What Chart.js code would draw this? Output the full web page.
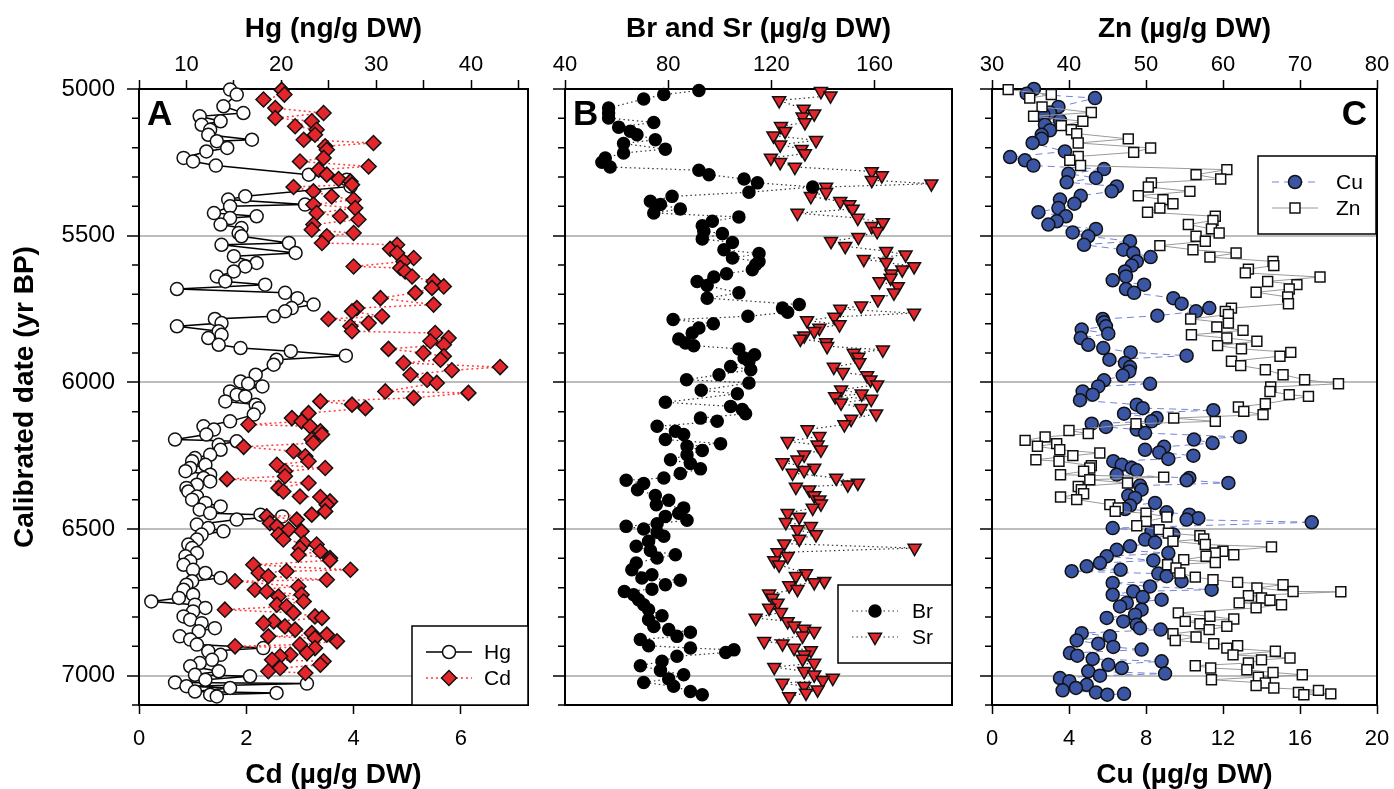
<!DOCTYPE html>
<html>
<head>
<meta charset="utf-8">
<title>Hg, Cd, Br, Sr, Cu and Zn profiles</title>
<script src="https://cdn.jsdelivr.net/npm/chart.js@4.4.1/dist/chart.umd.min.js"></script>
<style>
  html, body { margin: 0; padding: 0; background: #fff; }
  #wrap { position: relative; width: 1394px; height: 789px; }
  canvas { position: absolute; top: 0; }
</style>
</head>
<body>
<div id="wrap">
  <canvas id="panelA" width="540" height="789" style="left:0"></canvas>
  <canvas id="panelB" width="430" height="789" style="left:540px"></canvas>
  <canvas id="panelC" width="424" height="789" style="left:970px"></canvas>
</div>
<script>
// Age axis (calibrated yr BP), shared by the three panels
const ageMin = 5000;
const ageMax = 7100;
const ageStep = 100;
const ageLabelStep = 500;

// Panel A: Hg (ng/g DW, top axis) and Cd (µg/g DW, bottom axis)
const hgAge = [
  5002, 5019, 5059, 5082, 5093, 5110, 5122, 5139, 5156, 5173, 5178, 5201, 5213, 5235, 5247, 5261,
  5292, 5309, 5332, 5366, 5377, 5394, 5400, 5423, 5434, 5440, 5462, 5474, 5491, 5502, 5525, 5531,
  5559, 5570, 5593, 5605, 5622, 5639, 5656, 5667, 5682, 5695, 5713, 5735, 5747, 5758, 5775, 5784,
  5798, 5809, 5826, 5838, 5849, 5872, 5883, 5894, 5909, 5923, 5940, 5974, 5997, 6005, 6014, 6031,
  6042, 6048, 6065, 6076, 6088, 6110, 6133, 6150, 6161, 6178, 6195, 6201, 6213, 6230, 6247, 6258,
  6269, 6281, 6292, 6303, 6315, 6326, 6338, 6349, 6360, 6372, 6389, 6400, 6411, 6423, 6434, 6446,
  6451, 6457, 6468, 6485, 6497, 6508, 6519, 6536, 6553, 6565, 6582, 6593, 6610, 6622, 6639, 6650,
  6667, 6678, 6690, 6707, 6724, 6735, 6747, 6758, 6769, 6781, 6798, 6809, 6821, 6838, 6849, 6866,
  6877, 6894, 6906, 6917, 6929, 6946, 6957, 6968, 6985, 6997, 7002, 7014, 7023, 7027, 7036, 7042,
  7054, 7059, 7065, 7071
];
const hgValue = [
  14.6, 15.3, 13.9, 16.0, 11.4, 13.6, 11.6, 12.5, 12.3, 16.9, 13.2, 14.3, 12.1, 9.7, 10.7, 13.1,
  22.9, 26.9, 27.3, 16.2, 14.4, 22.5, 14.6, 12.9, 17.4, 14.6, 13.6, 15.8, 15.5, 15.8, 20.8, 13.7,
  21.5, 15.0, 17.4, 16.2, 15.0, 13.2, 14.1, 18.3, 9.0, 20.4, 21.7, 23.4, 21.1, 20.4, 19.2, 13.0,
  13.7, 9.0, 13.4, 13.7, 12.3, 13.4, 15.7, 21.0, 26.8, 19.5, 19.2, 17.3, 15.7, 16.5, 18.0, 14.6,
  15.3, 16.2, 14.1, 17.3, 17.6, 17.1, 14.6, 11.8, 12.9, 12.1, 8.8, 15.3, 13.4, 13.6, 12.5, 10.9,
  10.6, 12.0, 10.4, 9.9, 12.5, 11.8, 12.5, 11.1, 10.0, 10.2, 11.1, 10.6, 12.0, 13.6, 11.4, 12.5,
  17.8, 20.1, 15.3, 11.1, 12.3, 13.9, 11.6, 11.1, 10.2, 10.6, 11.1, 9.9, 10.4, 9.7, 10.7, 12.0,
  13.6, 10.6, 10.0, 9.7, 10.7, 9.2, 6.3, 10.9, 12.0, 10.7, 9.7, 10.4, 11.6, 13.0, 11.3, 9.3,
  10.4, 11.1, 18.1, 12.3, 13.6, 12.7, 11.4, 10.4, 13.4, 10.9, 16.7, 12.0, 8.8, 22.7, 10.0, 14.6,
  10.9, 19.5, 12.5, 13.2
];
const cdAge = [
  5003, 5019, 5036, 5065, 5082, 5099, 5110, 5127, 5139, 5156, 5173, 5184, 5195, 5207, 5235, 5247,
  5264, 5275, 5292, 5307, 5315, 5326, 5334, 5349, 5366, 5377, 5394, 5406, 5423, 5434, 5445, 5462,
  5480, 5491, 5502, 5525, 5531, 5545, 5559, 5576, 5588, 5605, 5610, 5622, 5639, 5656, 5673, 5678,
  5695, 5713, 5735, 5747, 5758, 5775, 5784, 5798, 5809, 5826, 5832, 5849, 5860, 5872, 5886, 5900,
  5911, 5923, 5934, 5948, 5959, 5974, 5991, 6002, 6031, 6036, 6053, 6065, 6076, 6088, 6105, 6122,
  6133, 6144, 6150, 6167, 6178, 6195, 6207, 6220, 6235, 6252, 6269, 6281, 6292, 6303, 6320, 6330,
  6343, 6360, 6372, 6389, 6391, 6406, 6417, 6440, 6451, 6457, 6468, 6480, 6491, 6502, 6508, 6519,
  6536, 6548, 6553, 6565, 6576, 6588, 6599, 6607, 6622, 6639, 6644, 6650, 6661, 6673, 6678, 6696,
  6707, 6713, 6724, 6730, 6747, 6758, 6764, 6775, 6786, 6798, 6803, 6815, 6821, 6832, 6843, 6855,
  6860, 6866, 6872, 6883, 6894, 6900, 6906, 6923, 6929, 6934, 6946, 6951, 6963, 6974, 6985, 6991
];
const cdValue = [
  2.66, 2.71, 2.32, 2.54, 3.44, 2.54, 3.22, 2.91, 3.31, 3.28, 3.07, 4.37, 3.47, 3.50, 3.44, 3.00,
  4.28, 3.35, 3.50, 3.72, 3.94, 3.97, 2.88, 3.25, 3.59, 4.00, 3.25, 4.03, 3.31, 3.75, 4.09, 3.25,
  3.22, 4.00, 3.50, 3.41, 4.81, 4.68, 4.81, 5.12, 4.93, 4.00, 4.87, 4.96, 5.09, 5.49, 5.68, 5.46,
  5.15, 4.50, 5.49, 4.06, 3.97, 4.53, 3.53, 4.28, 3.94, 3.97, 5.52, 5.77, 5.43, 5.68, 4.65, 5.30,
  5.68, 5.62, 4.93, 6.73, 5.83, 5.06, 5.37, 5.55, 4.59, 6.14, 5.12, 3.38, 3.97, 4.22, 3.16, 2.85,
  3.03, 2.04, 3.19, 3.38, 3.41, 3.22, 3.25, 1.95, 2.88, 3.10, 3.16, 2.57, 3.47, 2.72, 2.72, 1.64,
  3.16, 2.60, 2.69, 3.00, 3.38, 3.56, 3.50, 3.47, 3.22, 2.38, 2.94, 2.44, 2.57, 2.79, 3.03, 2.60,
  2.69, 3.07, 3.31, 3.00, 3.38, 2.97, 3.56, 3.56, 2.13, 3.94, 2.75, 2.23, 2.41, 3.50, 1.79, 2.97,
  2.16, 2.38, 3.03, 2.60, 3.07, 2.57, 2.75, 1.60, 2.88, 3.28, 3.41, 2.51, 2.32, 2.72, 2.91, 3.22,
  3.50, 2.41, 3.28, 3.69, 3.00, 1.79, 3.28, 3.13, 2.82, 2.63, 2.48, 3.44, 3.38, 2.63, 2.41, 3.10
];

// Panel B: Br and Sr (µg/g DW)
const brAge = [
  5005, 5019, 5034, 5065, 5082, 5099, 5114, 5130, 5144, 5156, 5173, 5186, 5205, 5218, 5235, 5250,
  5266, 5277, 5292, 5307, 5320, 5334, 5352, 5366, 5383, 5394, 5409, 5423, 5436, 5451, 5466, 5485,
  5493, 5511, 5523, 5548, 5561, 5576, 5588, 5599, 5616, 5630, 5641, 5656, 5670, 5695, 5713, 5735,
  5747, 5761, 5775, 5786, 5800, 5815, 5832, 5852, 5866, 5875, 5886, 5906, 5917, 5928, 5946, 5957,
  5974, 5991, 6002, 6027, 6039, 6068, 6082, 6093, 6107, 6122, 6133, 6150, 6167, 6178, 6195, 6209,
  6218, 6232, 6247, 6264, 6277, 6295, 6311, 6326, 6334, 6345, 6366, 6386, 6402, 6417, 6428, 6446,
  6457, 6470, 6482, 6491, 6500, 6511, 6525, 6542, 6559, 6573, 6588, 6599, 6616, 6639, 6656, 6667,
  6675, 6690, 6705, 6713, 6724, 6741, 6758, 6775, 6796, 6809, 6832, 6843, 6852, 6866, 6877, 6898,
  6906, 6912, 6921, 6934, 6951, 6966, 6982, 6997, 7011, 7023, 7036, 7054, 7065
];
const brValue = [
  91.9, 78.3, 70.5, 56.9, 56.9, 56.9, 74.4, 60.8, 65.3, 67.9, 75.0, 62.7, 78.9, 62.7, 55.6, 54.3,
  57.5, 91.9, 95.8, 109.4, 114.6, 136.0, 111.3, 81.5, 73.1, 77.0, 84.7, 74.4, 107.4, 97.1, 93.2, 93.8,
  101.0, 93.2, 104.9, 101.6, 115.2, 104.9, 115.2, 113.9, 112.6, 102.6, 97.7, 91.2, 95.1, 107.4, 95.1, 130.8,
  124.3, 126.3, 110.9, 81.9, 97.5, 91.9, 89.3, 84.1, 86.7, 89.9, 107.4, 113.5, 109.4, 111.3, 104.2, 112.0,
  99.7, 87.1, 111.3, 92.8, 106.8, 78.9, 104.2, 108.7, 110.0, 92.5, 99.0, 75.7, 82.8, 86.0, 78.9, 100.3,
  87.3, 93.2, 87.3, 80.9, 88.6, 92.5, 84.7, 78.3, 63.7, 70.5, 68.1, 75.0, 80.2, 75.4, 86.0, 84.1,
  78.9, 87.3, 75.7, 63.7, 70.5, 75.7, 78.3, 72.4, 67.6, 73.1, 82.8, 75.7, 67.6, 65.9, 73.7, 69.8,
  84.7, 78.9, 73.7, 63.0, 66.6, 68.5, 70.5, 72.4, 77.6, 72.4, 74.4, 80.2, 88.6, 83.4, 69.2, 72.4,
  88.6, 105.5, 102.3, 83.4, 77.6, 69.2, 77.0, 86.0, 80.2, 70.5, 82.1, 88.6, 93.2
];
const srAge = [
  5008, 5023, 5039, 5068, 5084, 5095, 5114, 5127, 5144, 5159, 5175, 5190, 5205, 5220, 5235, 5250,
  5266, 5281, 5295, 5311, 5323, 5334, 5352, 5366, 5383, 5394, 5409, 5423, 5440, 5455, 5468, 5485,
  5505, 5519, 5536, 5553, 5565, 5580, 5591, 5605, 5616, 5630, 5644, 5656, 5673, 5695, 5718, 5739,
  5750, 5764, 5777, 5789, 5803, 5815, 5826, 5841, 5852, 5864, 5877, 5889, 5900, 5914, 5932, 5948,
  5966, 5977, 5991, 6008, 6025, 6039, 6048, 6057, 6070, 6088, 6107, 6125, 6144, 6161, 6184, 6201,
  6213, 6230, 6247, 6264, 6273, 6292, 6300, 6309, 6326, 6343, 6349, 6357, 6366, 6386, 6400, 6414,
  6428, 6446, 6459, 6477, 6491, 6502, 6519, 6534, 6550, 6565, 6580, 6593, 6607, 6622, 6652, 6661,
  6678, 6682, 6693, 6705, 6721, 6735, 6752, 6769, 6784, 6803, 6815, 6830, 6841, 6849, 6864, 6883,
  6891, 6906, 6914, 6929, 6943, 6957, 6971, 6985, 6997, 7008, 7016, 7025, 7036, 7048, 7059, 7071
];
const srValue = [
  139.2, 142.9, 123.0, 132.5, 136.6, 132.1, 133.0, 123.7, 125.3, 120.8, 137.3, 123.4, 131.7, 133.0, 119.8, 123.4,
  129.1, 158.9, 162.8, 158.9, 182.0, 141.2, 141.2, 135.3, 146.7, 150.2, 151.5, 130.1, 153.5, 163.2, 158.9, 161.0,
  153.7, 143.1, 148.6, 164.5, 172.0, 155.8, 164.5, 175.3, 170.7, 166.5, 166.2, 161.9, 169.0, 167.5, 161.3, 154.8,
  146.7, 175.3, 144.4, 133.8, 146.4, 138.6, 136.6, 132.7, 131.2, 141.2, 141.6, 163.2, 151.9, 153.7, 154.1, 144.2,
  147.7, 157.1, 158.4, 161.0, 147.0, 155.0, 144.7, 158.7, 147.0, 154.8, 160.6, 150.9, 148.3, 134.0, 138.6, 126.3,
  137.9, 139.2, 132.7, 130.1, 124.3, 136.6, 132.7, 128.2, 145.1, 153.5, 149.6, 129.5, 134.7, 136.6, 138.6, 139.2,
  136.0, 126.3, 130.8, 125.6, 135.3, 130.1, 137.3, 130.8, 125.0, 175.5, 122.4, 126.3, 121.1, 123.0, 133.4, 129.5,
  140.5, 136.6, 126.9, 130.1, 119.1, 120.4, 122.4, 119.1, 123.7, 113.9, 126.3, 128.8, 132.7, 136.6, 132.1, 117.2,
  124.3, 128.8, 135.3, 132.7, 132.1, 136.6, 121.1, 132.7, 136.6, 143.8, 139.9, 124.3, 132.7, 137.9, 133.4, 126.9
];

// Panel C: Cu (µg/g DW, bottom axis) and Zn (µg/g DW, top axis)
const cuAge = [
  5000, 5016, 5031, 5061, 5080, 5088, 5107, 5122, 5141, 5156, 5170, 5184, 5213, 5232, 5243, 5261,
  5273, 5289, 5303, 5318, 5332, 5349, 5364, 5377, 5391, 5406, 5420, 5434, 5451, 5462, 5477, 5489,
  5502, 5519, 5531, 5548, 5559, 5573, 5588, 5602, 5622, 5639, 5652, 5667, 5682, 5695, 5713, 5732,
  5747, 5758, 5773, 5784, 5795, 5809, 5820, 5834, 5849, 5872, 5883, 5898, 5909, 5923, 5934, 5948,
  5963, 5977, 5993, 6005, 6014, 6031, 6042, 6061, 6076, 6088, 6095, 6107, 6122, 6133, 6141, 6152,
  6161, 6173, 6186, 6195, 6207, 6220, 6230, 6239, 6250, 6261, 6269, 6281, 6292, 6300, 6315, 6326,
  6334, 6343, 6352, 6366, 6386, 6394, 6411, 6420, 6432, 6443, 6451, 6463, 6468, 6477, 6497, 6508,
  6519, 6536, 6546, 6559, 6571, 6582, 6593, 6607, 6616, 6627, 6639, 6644, 6652, 6661, 6678, 6684,
  6696, 6707, 6713, 6724, 6732, 6741, 6752, 6764, 6775, 6792, 6803, 6815, 6826, 6838, 6843, 6855,
  6866, 6880, 6891, 6902, 6911, 6923, 6932, 6943, 6951, 6963, 6974, 6985, 6993, 7000, 7008, 7019,
  7031, 7042, 7050, 7057, 7062, 7065
];
const cuValue = [
  2.18, 1.80, 5.35, 3.45, 3.01, 2.67, 3.53, 2.75, 3.01, 2.58, 2.58, 2.11, 3.79, 0.94, 1.71, 2.15,
  5.82, 3.97, 5.40, 3.88, 6.48, 6.22, 4.61, 3.53, 4.28, 3.45, 2.41, 3.84, 3.36, 2.93, 5.40, 4.19,
  5.00, 7.17, 4.78, 6.82, 7.34, 8.24, 7.52, 7.26, 6.91, 6.96, 6.27, 7.90, 6.96, 7.38, 9.42, 9.85,
  11.29, 10.60, 8.59, 5.75, 5.82, 5.92, 4.66, 6.04, 4.61, 5.00, 5.78, 7.20, 10.11, 6.10, 6.91, 7.17,
  7.13, 6.79, 5.82, 8.21, 5.52, 4.71, 5.23, 4.57, 7.52, 7.83, 11.50, 6.86, 8.55, 8.29, 5.18, 5.92,
  7.52, 7.95, 12.88, 10.49, 11.46, 8.94, 7.95, 8.69, 10.46, 9.16, 6.30, 6.74, 7.26, 7.52, 6.48, 10.25,
  10.11, 12.28, 7.69, 7.77, 7.08, 7.43, 8.47, 7.17, 6.91, 9.07, 10.25, 10.72, 10.11, 16.61, 6.27, 8.29,
  9.42, 7.95, 8.47, 7.17, 6.48, 9.16, 5.96, 8.38, 5.61, 4.92, 6.68, 4.14, 8.64, 9.07, 9.85, 6.27,
  8.21, 11.41, 7.34, 6.27, 7.83, 8.81, 7.00, 6.65, 7.77, 7.43, 5.96, 6.82, 7.52, 7.69, 8.76, 4.66,
  6.13, 4.40, 5.52, 6.30, 7.77, 4.05, 4.43, 5.23, 8.81, 6.04, 6.74, 5.00, 8.99, 5.61, 3.53, 4.02,
  4.92, 4.36, 3.67, 5.40, 6.86, 5.99
];
const znAge = [
  5002, 5019, 5031, 5061, 5080, 5093, 5110, 5125, 5139, 5152, 5170, 5184, 5201, 5216, 5230, 5243,
  5261, 5275, 5292, 5307, 5320, 5334, 5349, 5364, 5377, 5391, 5406, 5420, 5434, 5448, 5462, 5477,
  5491, 5502, 5519, 5534, 5548, 5559, 5573, 5588, 5602, 5614, 5627, 5641, 5656, 5667, 5682, 5693,
  5709, 5732, 5747, 5758, 5769, 5784, 5798, 5811, 5823, 5838, 5849, 5860, 5875, 5886, 5898, 5911,
  5928, 5943, 5957, 5974, 5991, 6005, 6016, 6031, 6042, 6048, 6073, 6084, 6099, 6110, 6122, 6133,
  6141, 6164, 6175, 6186, 6198, 6209, 6218, 6230, 6241, 6250, 6264, 6269, 6284, 6292, 6303, 6315,
  6323, 6332, 6343, 6355, 6366, 6380, 6391, 6400, 6417, 6428, 6440, 6446, 6459, 6474, 6489, 6502,
  6514, 6523, 6534, 6542, 6553, 6561, 6576, 6582, 6588, 6593, 6605, 6614, 6622, 6633, 6650, 6664,
  6673, 6682, 6690, 6701, 6713, 6714, 6727, 6735, 6743, 6752, 6758, 6769, 6786, 6798, 6807, 6815,
  6823, 6832, 6843, 6857, 6868, 6880, 6891, 6898, 6906, 6917, 6929, 6940, 6946, 6957, 6966, 6974,
  6980, 6989, 6997, 7005, 7014, 7025, 7034, 7042, 7050, 7057, 7062, 7065
];
const znValue = [
  32.1, 37.7, 34.9, 36.5, 42.9, 35.4, 41.8, 39.0, 40.3, 41.0, 47.7, 41.2, 50.6, 48.4, 41.2, 40.1,
  41.5, 60.5, 56.5, 59.7, 50.7, 50.3, 55.7, 49.0, 52.2, 53.5, 51.8, 50.2, 59.0, 58.7, 55.5, 58.5,
  59.5, 56.5, 57.7, 51.8, 56.1, 61.7, 58.3, 66.5, 66.6, 63.3, 62.9, 72.6, 65.8, 69.6, 68.6, 64.3,
  68.4, 68.5, 61.1, 60.3, 60.7, 55.8, 60.7, 59.2, 62.6, 55.9, 60.5, 64.4, 59.3, 62.4, 68.8, 67.4,
  61.1, 62.3, 65.5, 67.8, 70.6, 75.0, 66.2, 66.1, 68.6, 71.1, 65.5, 62.0, 62.7, 65.2, 53.6, 59.0,
  48.7, 40.0, 42.5, 36.9, 34.3, 38.4, 35.9, 38.8, 44.0, 40.5, 35.7, 38.7, 42.9, 42.7, 41.9, 38.9,
  52.3, 42.7, 47.6, 41.2, 41.6, 41.9, 38.9, 41.0, 45.3, 46.4, 46.0, 50.0, 52.7, 50.0, 48.8, 51.7,
  52.9, 57.0, 57.5, 53.5, 57.7, 66.3, 60.0, 59.0, 61.4, 57.8, 54.9, 59.0, 52.8, 53.9, 54.4, 56.4,
  58.7, 61.9, 67.8, 64.4, 69.1, 75.3, 63.3, 65.0, 66.1, 62.1, 67.6, 64.3, 54.2, 58.3, 61.4, 55.1,
  57.0, 60.5, 58.2, 53.5, 56.5, 53.8, 58.8, 61.9, 60.5, 66.8, 61.3, 68.7, 65.0, 63.3, 56.4, 58.4,
  63.1, 66.5, 70.3, 64.6, 58.5, 65.5, 64.3, 66.6, 72.4, 69.8, 74.0, 70.5
];

const FONT = '"Liberation Sans", Arial, Helvetica, sans-serif';
Chart.defaults.font.family = FONT;
Chart.defaults.color = '#000';
Chart.defaults.animation = false;

const RED = '#e3262b';
const BLUE = '#3a55a4';
const MINOR_TICK = 7; // minor age ticks are shorter than the major ones

function points(ages, values) {
  return ages.map((a, i) => ({ x: values[i], y: a }));
}

const isMajorAge = (v) => v % ageLabelStep === 0;

// vertical age axis; only panel A shows labels and the title
function ageAxis(width, showLabels) {
  return {
    type: 'linear',
    position: 'left',
    reverse: true,
    min: ageMin,
    max: ageMax,
    afterFit: (scale) => { scale.width = width; },
    border: { display: false },
    grid: {
      color: (c) => (c.tick && isMajorAge(c.tick.value) ? '#bdbdbd' : 'rgba(0,0,0,0)'),
      lineWidth: 2,
      tickColor: (c) => (c.tick && isMajorAge(c.tick.value) ? '#000' : 'rgba(0,0,0,0)'),
      tickWidth: 1.5,
      tickLength: 12
    },
    ticks: {
      display: showLabels,
      stepSize: ageStep,
      autoSkip: false,
      padding: 12,
      font: { size: 24 },
      callback: (v) => (isMajorAge(v) ? v : '')
    },
    title: {
      display: showLabels,
      text: 'Calibrated date (yr BP)',
      font: { size: 28, weight: 'bold', lineHeight: 1 },
      padding: { top: 11, bottom: 0 }
    }
  };
}

// horizontal concentration axis (top or bottom)
function valueAxis(position, min, max, step, labelEvery, title, height) {
  return {
    type: 'linear',
    position: position,
    min: min,
    max: max,
    afterFit: (scale) => {
      scale.height = height;
      // edge labels may overhang; keep the plot width fixed
      scale.paddingLeft = 0;
      scale.paddingRight = 0;
    },
    border: { display: false },
    grid: { drawOnChartArea: false, tickColor: '#000', tickWidth: 1.5, tickLength: 9 },
    ticks: {
      stepSize: step,
      autoSkip: false,
      includeBounds: false,
      maxRotation: 0,
      padding: position === 'top' ? 2 : 12,
      font: { size: 22 },
      callback: (v) => (Math.abs(v / labelEvery - Math.round(v / labelEvery)) < 1e-6 ? v : '')
    },
    title: {
      display: true,
      text: title,
      font: { size: 28, weight: 'bold', lineHeight: 1 },
      padding: position === 'top' ? { top: 15, bottom: 0 } : { top: 0, bottom: 0 }
    }
  };
}

// frame, minor age ticks, panel letter and an inset legend drawn from the dataset styles
const panelDecor = {
  id: 'panelDecor',
  beforeDatasetsDraw(chart) {
    const a = chart.chartArea;
    const ctx = chart.ctx;
    const yScale = chart.scales.y;
    ctx.save();
    ctx.strokeStyle = '#000';
    ctx.lineWidth = 1.5;
    ctx.beginPath();
    yScale.ticks.forEach((t) => {
      if (isMajorAge(t.value)) return;
      const py = yScale.getPixelForValue(t.value);
      ctx.moveTo(a.left - MINOR_TICK, py);
      ctx.lineTo(a.left, py);
    });
    ctx.stroke();
    ctx.lineWidth = 2;
    ctx.strokeRect(a.left, a.top, a.right - a.left, a.bottom - a.top);
    ctx.restore();
  },
  afterDraw(chart, args, opts) {
    const a = chart.chartArea;
    const ctx = chart.ctx;
    ctx.save();
    // letter
    ctx.font = 'bold 35px ' + FONT;
    ctx.fillStyle = '#000';
    ctx.textBaseline = 'alphabetic';
    if (opts.letterSide === 'right') {
      ctx.textAlign = 'right';
      ctx.fillText(opts.letter, a.right - 10, a.top + 36);
    } else {
      ctx.textAlign = 'left';
      ctx.fillText(opts.letter, a.left + 8, a.top + 36);
    }
    // legend box
    const lg = opts.legend;
    const bx = a.right - lg.w - lg.right;
    const by = a.top + lg.top;
    ctx.fillStyle = '#fff';
    ctx.fillRect(bx, by, lg.w, lg.h);
    ctx.strokeStyle = '#000';
    ctx.lineWidth = 1.5;
    ctx.strokeRect(bx, by, lg.w, lg.h);
    lg.items.forEach((idx, row) => {
      const ds = chart.data.datasets[idx];
      const ry = by + 26 + row * 26;
      ctx.save();
      ctx.setLineDash(ds.borderDash || []);
      ctx.strokeStyle = ds.borderColor;
      ctx.lineWidth = ds.borderWidth;
      ctx.beginPath();
      ctx.moveTo(bx + 14, ry);
      ctx.lineTo(bx + 60, ry);
      ctx.stroke();
      ctx.restore();
      ctx.fillStyle = ds.pointBackgroundColor;
      ctx.strokeStyle = ds.pointBorderColor;
      ctx.lineWidth = ds.pointBorderWidth;
      Chart.helpers.drawPoint(ctx, {
        pointStyle: ds.pointStyle,
        radius: ds.pointRadius,
        rotation: ds.pointRotation || 0,
        borderWidth: ds.pointBorderWidth
      }, bx + 37, ry);
      ctx.fillStyle = '#000';
      ctx.font = '21px ' + FONT;
      ctx.textAlign = 'left';
      ctx.textBaseline = 'middle';
      ctx.fillText(ds.label, bx + lg.textX, ry + 1);
    });
    ctx.restore();
  }
};

function series(label, ages, values, style) {
  return Object.assign({
    label: label,
    data: points(ages, values),
    showLine: true,
    clip: false,
    pointBorderWidth: 1.5,
    pointBorderColor: '#111'
  }, style);
}

function makePanel(id, datasets, scales, padding, decor) {
  return new Chart(document.getElementById(id), {
    type: 'scatter',
    data: { datasets: datasets },
    options: {
      responsive: false,
      animation: false,
      events: [],
      layout: { padding: padding },
      scales: scales,
      plugins: {
        legend: { display: false },
        tooltip: { enabled: false },
        panelDecor: decor
      }
    },
    plugins: [panelDecor]
  });
}

// Panel A
makePanel('panelA', [
  series('Hg', hgAge, hgValue, {
    xAxisID: 'xHg', order: 2,
    borderColor: '#000', borderWidth: 1.5,
    pointStyle: 'circle', pointRadius: 6.5, pointBackgroundColor: '#fff'
  }),
  series('Cd', cdAge, cdValue, {
    xAxisID: 'xCd', order: 1,
    borderColor: '#ff3b3b', borderWidth: 1.5, borderDash: [2, 3],
    pointStyle: 'rectRot', pointRadius: 7.5, pointBackgroundColor: RED
  })
], {
  y: ageAxis(139, true),
  xHg: valueAxis('top', 5, 46, 5, 10, 'Hg (ng/g DW)', 89),
  xCd: valueAxis('bottom', 0, 7.25, 2, 2, 'Cd (µg/g DW)', 84)
}, { left: 0, right: 12, top: 0, bottom: 0 }, {
  letter: 'A',
  legend: { w: 116, h: 79, right: 0, top: 537, textX: 72, items: [0, 1] }
});

// Panel B
makePanel('panelB', [
  series('Br', brAge, brValue, {
    xAxisID: 'x', order: 1,
    borderColor: '#333', borderWidth: 1.2, borderDash: [1.5, 3],
    pointStyle: 'circle', pointRadius: 6, pointBackgroundColor: '#000', pointBorderColor: '#000'
  }),
  series('Sr', srAge, srValue, {
    xAxisID: 'x', order: 2,
    borderColor: '#333', borderWidth: 1.2, borderDash: [1.5, 3],
    pointStyle: 'triangle', pointRotation: 180, pointRadius: 7.5, pointBackgroundColor: RED
  })
], {
  y: ageAxis(25, false),
  x: valueAxis('top', 40, 190, 40, 40, 'Br and Sr (µg/g DW)', 89)
}, { left: 0, right: 18, top: 0, bottom: 84 }, {
  letter: 'B',
  legend: { w: 114, h: 78, right: 0, top: 496, textX: 74, items: [0, 1] }
});

// Panel C
makePanel('panelC', [
  series('Cu', cuAge, cuValue, {
    xAxisID: 'xCu', order: 2,
    borderColor: '#7483d6', borderWidth: 1, borderDash: [7, 5],
    pointStyle: 'circle', pointRadius: 6.5, pointBackgroundColor: BLUE
  }),
  series('Zn', znAge, znValue, {
    xAxisID: 'xZn', order: 1,
    borderColor: '#9a9a9a', borderWidth: 1,
    pointStyle: 'rect', pointRadius: 7, pointBackgroundColor: '#fff'
  })
], {
  y: ageAxis(22, false),
  xZn: valueAxis('top', 30, 80, 10, 10, 'Zn (µg/g DW)', 89),
  xCu: valueAxis('bottom', 0, 20, 4, 4, 'Cu (µg/g DW)', 84)
}, { left: 0, right: 17, top: 0, bottom: 0 }, {
  letter: 'C',
  letterSide: 'right',
  legend: { w: 118, h: 78, right: 1, top: 67, textX: 78, items: [0, 1] }
});
</script>
</body>
</html>
